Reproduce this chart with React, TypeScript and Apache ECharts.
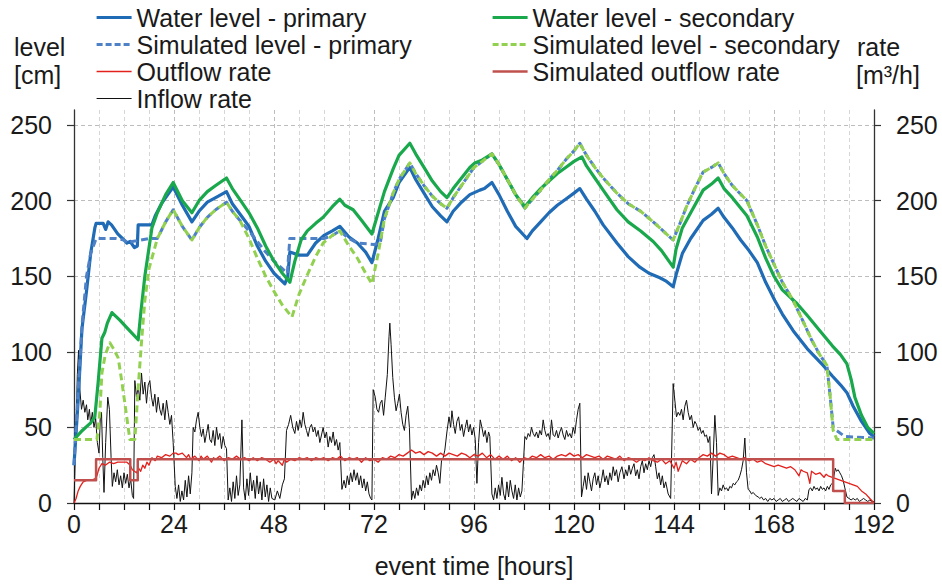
import React, { useEffect, useRef } from "react";
import * as echarts from "echarts";

const FONT = "'Liberation Sans', Arial, Helvetica, sans-serif";

const xTickLabels = [0, 24, 48, 72, 96, 120, 144, 168, 192];
const yTickLabels = [0, 50, 100, 150, 200, 250];

const primaryLevel: [number, number][] = [
  [0, 25], [1, 68], [1.9, 115], [3, 140], [4, 165], [5, 182], [5.3, 185], [7, 185], [7.6, 181], [8.2, 186], [9, 184],
  [10.5, 178], [12, 174], [12.7, 172], [13.5, 173], [14.5, 169], [15.2, 170], [15.4, 184], [18.7, 184], [19.5, 190],
  [21, 198], [22.5, 204], [23.8, 209], [26, 197], [28.3, 186], [30, 193], [32, 199], [34, 202], [36.6, 206], [38, 198],
  [40.4, 189], [42, 183], [44, 170], [46, 160], [48, 152], [50.6, 145], [51.3, 150], [51.8, 166], [54, 164], [56, 164],
  [58, 172], [60, 177], [62, 180], [63.8, 183], [66, 176], [68, 172], [70, 166], [71.5, 159], [73, 175], [74.5, 193],
  [76.6, 202], [78, 212], [80.6, 222], [82, 214], [84, 205], [86, 196], [88, 190], [89.5, 186], [91, 193], [93, 199],
  [95, 204], [97.4, 207], [98.5, 208], [100.3, 212], [102, 204], [104, 193], [106, 183], [108.7, 175], [110, 180],
  [112, 186], [114, 192], [116, 197], [118, 201], [120, 205], [121.4, 208], [123, 201], [125, 193], [127, 184],
  [130.3, 172], [133, 163], [135.8, 156], [138, 152], [140.6, 149], [142, 147], [143.8, 143], [144.5, 151], [146, 165],
  [148, 175], [151, 187], [153, 191], [154.6, 195], [156, 189], [158, 182], [160, 174], [162, 167], [164, 159],
  [166, 146], [168.2, 134], [170, 125], [172.6, 114], [176, 102], [179.8, 91], [182, 84], [184, 78], [185.5, 73],
  [187, 64], [189, 54], [191, 46], [192, 44],
];

const secondaryLevel: [number, number][] = [
  [0, 42], [2, 48], [4, 53], [5, 57], [5.8, 80], [6.7, 109], [7.4, 113], [8, 119], [9.1, 126], [11, 121], [13, 115],
  [15.4, 108], [16, 125], [17, 150], [18.7, 182], [20, 192], [22, 204], [23.8, 212], [26, 200], [28.3, 192], [30, 200],
  [32, 206], [34, 210], [36.6, 215], [38, 208], [40, 200], [42, 192], [44, 182], [46, 170], [48, 160], [50, 152],
  [51.8, 146], [53, 160], [54.5, 174], [56, 180], [58, 185], [59.8, 189], [62, 196], [63.8, 201], [65, 197], [67, 194],
  [69, 187], [71.5, 178], [73, 192], [74.5, 206], [76.6, 221], [78, 230], [80.6, 238], [82, 231], [84, 222], [86, 213],
  [88, 206], [89.5, 202], [91, 208], [93, 215], [95, 222], [96.2, 225], [98, 227], [100.3, 231], [102, 224], [104, 214],
  [106, 204], [108.2, 196], [110, 202], [112, 208], [114, 213], [116, 218], [118, 222], [120, 226], [121.9, 229],
  [123, 223], [125, 215], [127, 207], [130.3, 194], [133, 186], [136, 180], [139, 173], [141, 167], [143.8, 156],
  [144.5, 168], [146, 182], [148, 192], [151, 207], [153, 211], [154.6, 215], [156, 208], [158, 202], [161.5, 190],
  [164, 176], [166, 162], [168, 150], [170, 141], [173.5, 132], [176, 124], [179, 114], [182, 104], [184, 98],
  [185.5, 92], [186.5, 82], [187.4, 70], [189, 58], [190.5, 50], [192, 46],
];

const simPrimary: [number, number][] = [
  [0, 25], [1, 75], [2, 120], [3, 150], [4, 165], [5.3, 175], [10, 175], [12, 174], [13, 172], [14, 173], [16, 174],
  [18, 175], [20, 175], [22, 186], [23.8, 194], [26, 183], [28.3, 174], [30, 182], [32, 189], [34, 194], [36.6, 199],
  [38, 193], [39.8, 187], [42, 180], [44, 173], [46, 166], [48, 160], [50, 155], [51.2, 152], [51.8, 175], [60, 175],
  [62, 177], [63.8, 180], [66, 175], [68, 172], [72, 171], [73.5, 172], [74.5, 188], [76.6, 205], [78, 214],
  [80.6, 225], [82, 218], [84, 210], [86, 203], [88, 198], [89.5, 195], [91, 202], [93, 210], [95, 218], [96, 222],
  [98, 226], [100.3, 231], [102, 224], [104, 214], [106, 204], [108.2, 195], [110, 201], [112, 207], [114, 214],
  [116, 220], [118, 227], [120, 233], [121.4, 238], [123, 230], [125, 222], [127, 215], [130.3, 205], [133, 198],
  [136, 193], [139, 186], [141, 181], [143.8, 174], [145, 182], [147, 196], [149, 208], [151, 219], [153, 222],
  [154.6, 225], [156, 218], [158, 210], [161.5, 200], [164, 184], [166, 170], [168, 158], [170, 146], [172.6, 134],
  [175, 120], [177, 108], [179, 98], [180.7, 91], [181.5, 70], [182.2, 50], [183, 48], [185, 44], [192, 43],
];

const simSecondary: [number, number][] = [
  [0, 42], [5.5, 42], [6.2, 60], [6.7, 86], [7.5, 98], [8.6, 106], [9.5, 102], [10.6, 96], [11.5, 80], [12.5, 60],
  [13.4, 42], [14.6, 42], [15.5, 80], [16.3, 110], [17, 134], [18, 155], [20, 175], [22, 186], [23.8, 194], [26, 183],
  [28.3, 174], [30, 182], [32, 189], [34, 194], [36.6, 199], [38, 193], [39.8, 187], [42, 175], [44, 162], [46, 150],
  [48, 140], [50, 131], [52.3, 123], [54, 138], [56, 151], [58, 163], [59.8, 172], [62, 177], [63.8, 180], [66, 170],
  [68, 162], [70, 152], [71.5, 145], [73, 165], [74.5, 188], [76.6, 205], [78, 214], [80.6, 225], [82, 218], [84, 210],
  [86, 203], [88, 198], [89.5, 195], [91, 202], [93, 210], [95, 218], [96, 222], [98, 226], [100.3, 231], [102, 224],
  [104, 214], [106, 204], [108.2, 195], [110, 201], [112, 207], [114, 214], [116, 220], [118, 227], [120, 233],
  [121.4, 238], [123, 230], [125, 222], [127, 215], [130.3, 205], [133, 198], [136, 193], [139, 186], [141, 181],
  [143.8, 174], [145, 182], [147, 196], [149, 208], [151, 219], [153, 222], [154.6, 225], [156, 218], [158, 210],
  [161.5, 200], [164, 184], [166, 170], [168, 158], [170, 146], [172.6, 134], [175, 120], [177, 108], [179, 98],
  [180.7, 91], [181.5, 70], [182.2, 48], [183.1, 42], [192, 42],
];

const outflowRate: [number, number][] = [
  [0, 0], [0.5, 3], [1, 8], [1.5, 11], [2.2, 14], [3, 15], [4, 15], [5, 16], [5.5, 18], [6, 23], [6.7, 26], [7.5, 25],
  [8.5, 27], [9.5, 26], [10.5, 27], [11.5, 27], [12.7, 27], [13.5, 25], [14, 22], [15, 20], [15.5, 23], [16, 21],
  [16.5, 25], [17, 23], [17.5, 27], [18, 25], [18.7, 30], [19.5, 28], [20, 31], [21, 30], [22, 32], [23, 31],
  [23.8, 33], [24.5, 33], [25, 32], [26, 33], [27, 30], [27.5, 32], [28, 29], [29, 31], [30, 28], [30.5, 31], [31, 29],
  [32, 31], [33, 27], [33.5, 30], [34, 29], [35, 31], [36, 28], [37, 30], [38, 29], [39, 31], [40, 29], [41, 30],
  [42, 28], [43, 30], [44, 28], [45, 30], [46, 29], [47, 27], [48, 29], [48.5, 26], [49, 28], [50, 25], [50.5, 29],
  [51, 27], [52, 29], [53, 28], [54, 30], [55, 29], [56, 30], [57, 28], [58, 30], [59, 29], [60, 30], [61, 28], [62, 30],
  [63, 29], [64, 31], [65, 28], [66, 30], [67, 29], [68, 30], [69, 27], [70, 30], [71, 28], [72, 29], [73, 27], [74, 30],
  [75, 29], [76, 31], [77, 30], [78, 32], [79, 31], [80, 33], [81, 35], [82, 33], [83, 34], [84, 32], [85, 34], [86, 33],
  [87, 31], [88, 33], [89, 31], [90, 33], [91, 32], [92, 31], [93, 33], [94, 32], [95, 30], [96, 32], [97, 31], [98, 33],
  [99, 30], [100, 32], [101, 29], [102, 31], [103, 29], [104, 31], [105, 28], [106, 30], [107, 27], [108, 30], [109, 29],
  [110, 31], [111, 30], [112, 32], [113, 30], [114, 31], [115, 29], [116, 31], [117, 32], [118, 31], [119, 33],
  [120, 31], [121, 32], [122, 30], [123, 32], [124, 31], [125, 30], [126, 31], [127, 29], [128, 31], [129, 30],
  [130, 29], [131, 31], [132, 28], [133, 30], [134, 29], [135, 27], [136, 29], [137, 28], [138, 30], [139, 28],
  [140, 27], [141, 29], [142, 26], [143, 28], [144, 23], [144.5, 27], [145, 21], [146, 28], [147, 26], [148, 29],
  [149, 27], [150, 30], [151, 32], [152, 31], [153, 33], [154, 31], [155, 33], [156, 32], [157, 30], [158, 31],
  [159, 30], [160, 29], [161, 30], [162, 28], [163, 29], [164, 27], [165, 28], [166, 26], [167, 25], [168, 24],
  [169, 25], [170, 24], [171, 23], [172, 24], [173, 22], [174, 18], [174.5, 22], [175, 21], [176, 20], [176.6, 13],
  [177, 21], [178, 19], [179, 20], [180, 17], [180.5, 19], [181, 18], [182, 17], [183, 16], [184, 15], [185, 14],
  [186, 13], [187, 12], [188, 11], [189, 8], [190, 6], [191, 3], [192, 0],
];

const simOutflowRate: [number, number][] = [
  [0, 15], [5.3, 15], [5.3, 29], [13.5, 29], [13.5, 15], [15.3, 15], [15.3, 29], [182.2, 29], [182.2, 8], [185, 8],
  [185, 0], [192, 0],
];

const inflowRate: [number, number][] = [
  [0, 0], [0.4, 40], [0.8, 85], [1.1, 101], [1.4, 75], [1.8, 62], [2.2, 68], [2.6, 60], [3, 65], [3.3, 55], [3.7, 62],
  [4, 52], [4.4, 60], [4.8, 50], [5.2, 56], [5.6, 40], [6, 33], [6.3, 55], [6.6, 60], [6.9, 30], [7.2, 7], [7.6, 40],
  [8.1, 70], [8.5, 62], [8.9, 30], [9.2, 11], [9.6, 20], [10, 14], [10.4, 22], [10.8, 12], [11.2, 18], [11.6, 10],
  [12, 20], [12.4, 13], [12.8, 19], [13.2, 10], [13.6, 16], [14, 5], [14.3, 3], [14.6, 81], [15, 70], [15.4, 77],
  [15.8, 68], [16.2, 86], [16.6, 72], [17, 80], [17.4, 66], [17.8, 78], [18.2, 81], [18.6, 70], [19, 64], [19.4, 72],
  [19.8, 60], [20.2, 70], [20.6, 62], [21, 58], [21.4, 66], [21.8, 55], [22.2, 68], [22.6, 60], [23, 52], [23.4, 58],
  [23.8, 40], [24.3, 11], [24.7, 3], [25.1, 12], [25.5, 1], [25.9, 8], [26.3, 2], [26.7, 15], [27.1, 4], [27.5, 18],
  [27.9, 6], [28.3, 20], [28.6, 50], [29, 47], [29.4, 55], [29.8, 60], [30.2, 50], [30.6, 44], [31, 49], [31.4, 40],
  [31.8, 46], [32.2, 52], [32.6, 42], [33, 40], [33.4, 48], [33.8, 38], [34.2, 50], [34.6, 42], [35, 46], [35.4, 36],
  [35.8, 44], [36.2, 38], [36.6, 36], [37, 2], [37.4, 10], [37.8, 1], [38.2, 14], [38.6, 3], [39, 18], [39.4, 5],
  [39.8, 12], [40.3, 55], [40.7, 10], [41.1, 2], [41.5, 16], [41.9, 5], [42.3, 20], [42.7, 8], [43.1, 15], [43.5, 3],
  [43.9, 18], [44.3, 6], [44.7, 14], [45.1, 2], [45.5, 16], [45.9, 4], [46.3, 12], [46.7, 1], [47.1, 10], [47.5, 3],
  [48.2, 2], [48.8, 8], [49.4, 3], [50, 12], [50.5, 16], [51, 48], [51.5, 52], [52, 58], [52.5, 50], [53, 46],
  [53.4, 54], [53.8, 48], [54.2, 55], [54.6, 50], [55, 60], [55.4, 52], [55.8, 48], [56.2, 44], [56.6, 50], [57, 52],
  [57.4, 47], [57.8, 50], [58.2, 44], [58.6, 48], [59, 40], [59.4, 45], [59.8, 50], [60.2, 43], [60.6, 47], [61, 37],
  [61.4, 44], [61.8, 40], [62.2, 47], [62.6, 38], [63, 42], [63.4, 35], [63.8, 40], [64.3, 9], [64.8, 15], [65.2, 10],
  [65.6, 18], [66, 12], [66.4, 20], [66.8, 14], [67.2, 22], [67.6, 15], [68, 20], [68.4, 12], [68.8, 18], [69.2, 10],
  [69.6, 16], [70, 8], [70.4, 14], [70.8, 6], [71.2, 3], [71.5, 2], [71.8, 75], [72.3, 70], [72.7, 62], [73.1, 60],
  [73.5, 66], [73.9, 68], [74.3, 58], [74.7, 70], [75.2, 85], [75.6, 110], [75.8, 119], [76.1, 105], [76.5, 83],
  [76.9, 70], [77.3, 61], [77.7, 66], [78.1, 72], [78.5, 60], [78.9, 52], [79.3, 48], [79.7, 58], [80.1, 64],
  [80.5, 50], [81, 2], [81.4, 8], [81.8, 3], [82.2, 10], [82.6, 5], [83, 12], [83.4, 8], [83.8, 15], [84.2, 10],
  [84.6, 18], [85, 12], [85.4, 20], [85.8, 15], [86.2, 22], [86.6, 18], [87, 25], [87.4, 20], [87.8, 13], [88.2, 28],
  [88.6, 30], [89, 35], [89.5, 47], [90, 57], [90.4, 50], [90.7, 61], [91.1, 52], [91.5, 46], [91.9, 54], [92.3, 57],
  [92.7, 48], [93.1, 52], [93.5, 44], [93.9, 50], [94.3, 55], [94.7, 47], [95.1, 52], [95.5, 45], [95.9, 50],
  [96.3, 42], [96.7, 13], [97.1, 40], [97.5, 55], [97.9, 50], [98.3, 44], [98.7, 48], [99.1, 40], [99.5, 47],
  [99.8, 44], [100.3, 6], [100.7, 2], [101.1, 10], [101.5, 3], [101.9, 12], [102.3, 5], [102.7, 17], [103.1, 6],
  [103.5, 2], [103.9, 14], [104.3, 4], [104.7, 15], [105.1, 8], [105.5, 3], [105.9, 12], [106.3, 2], [106.7, 10],
  [107.1, 4], [107.5, 8], [108.2, 44], [108.6, 42], [109, 46], [109.4, 44], [109.8, 50], [110.2, 46], [110.6, 44],
  [111, 47], [111.4, 43], [111.8, 48], [112.2, 45], [112.6, 55], [113, 48], [113.4, 44], [113.8, 46], [114.2, 42],
  [114.6, 55], [115, 45], [115.4, 44], [115.8, 48], [116.2, 43], [116.6, 47], [117, 50], [117.4, 45], [117.8, 42],
  [118.2, 48], [118.6, 44], [119, 46], [119.4, 43], [119.8, 50], [120.2, 46], [120.6, 55], [121, 62], [121.4, 66],
  [121.8, 4], [122.2, 11], [122.6, 18], [123, 9], [123.4, 20], [123.8, 14], [124.2, 8], [124.6, 16], [125, 20],
  [125.4, 12], [125.8, 18], [126.2, 10], [126.6, 15], [127, 22], [127.4, 14], [127.8, 18], [128.2, 12], [128.6, 20],
  [129, 15], [129.4, 24], [129.8, 18], [130.2, 22], [130.6, 14], [131, 20], [131.5, 24], [132, 16], [132.4, 22],
  [132.8, 18], [133.2, 25], [133.6, 19], [134, 23], [134.4, 26], [134.8, 18], [135.2, 22], [135.6, 16], [136, 24],
  [136.4, 28], [136.8, 20], [137.2, 26], [137.6, 22], [138, 28], [138.4, 24], [138.8, 30], [139.2, 32], [139.6, 24],
  [140, 16], [140.4, 20], [140.8, 12], [141.2, 18], [141.6, 10], [142, 14], [142.6, 6], [143.2, 3], [143.8, 79],
  [144.2, 68], [144.6, 57], [145, 60], [145.4, 58], [145.8, 62], [146.2, 55], [146.6, 64], [147, 68], [147.4, 60],
  [147.8, 55], [148.2, 58], [148.6, 50], [149, 54], [149.4, 52], [149.8, 48], [150.2, 50], [150.6, 46], [151, 48],
  [151.4, 44], [151.8, 45], [152.2, 40], [152.6, 44], [153, 6], [153.4, 30], [153.8, 58], [154.2, 40], [154.6, 5],
  [155, 10], [155.4, 8], [155.8, 12], [156.2, 9], [156.6, 10], [157, 8], [157.4, 11], [157.8, 10], [158.2, 13],
  [158.6, 12], [159, 14], [159.4, 15], [159.8, 18], [160.2, 22], [160.6, 28], [161, 43], [161.4, 20], [161.8, 9],
  [162.2, 8], [162.6, 6], [163, 7], [163.6, 5], [164.2, 4], [164.6, 3], [165, 4], [165.5, 2], [166, 3], [166.5, 1],
  [167, 3], [167.5, 2], [168, 3], [168.5, 1], [169, 2], [169.5, 3], [170, 1], [170.5, 2], [171, 3], [171.5, 1],
  [172, 2], [172.5, 3], [173, 2], [173.5, 1], [174, 3], [174.5, 2], [175, 1], [175.5, 3], [176, 2], [176.4, 9],
  [176.8, 10], [177.2, 8], [177.6, 11], [178, 9], [178.4, 10], [178.8, 8], [179.2, 11], [179.6, 9], [180, 10],
  [180.4, 8], [180.8, 11], [181.2, 9], [181.6, 12], [182, 13], [182.4, 18], [182.7, 23], [183, 21], [183.4, 22],
  [183.8, 20], [184.2, 18], [184.6, 15], [185, 10], [185.5, 4], [186, 3], [186.5, 2], [187, 3], [187.5, 2], [188, 3],
  [188.5, 1], [189, 2], [189.5, 3], [190, 2], [190.5, 1], [191, 2], [191.5, 1], [192, 1],
];

const legendLeft = ["Water level - primary", "Simulated level - primary", "Outflow rate", "Inflow rate"];
const legendRight = ["Water level - secondary", "Simulated level - secondary", "Simulated outflow rate"];

const TEXT = "#1a1a1a";
const MINOR = "#d6d6d6";
const MAJOR = "#bdbdbd";

const STYLES: Record<string, { color: string; width: number; dashed: boolean }> = {
  "Inflow rate": { color: "#111111", width: 1, dashed: false },
  "Outflow rate": { color: "#e3211c", width: 1.3, dashed: false },
  "Simulated outflow rate": { color: "#c0504d", width: 2.5, dashed: false },
  "Water level - primary": { color: "#1f6bb5", width: 3.2, dashed: false },
  "Simulated level - primary": { color: "#4f81c7", width: 3, dashed: true },
  "Water level - secondary": { color: "#1aa84c", width: 3.2, dashed: false },
  "Simulated level - secondary": { color: "#92d050", width: 3, dashed: true },
};

function lineStyleOf(name: string) {
  const s = STYLES[name];
  return { color: s.color, width: s.width, type: s.dashed ? [7, 4] : "solid", cap: "butt", join: "round" };
}

function line(name: string, data: [number, number][], yAxisIndex: number, z: number) {
  return {
    type: "line",
    name,
    data,
    yAxisIndex,
    xAxisIndex: 0,
    symbol: "none",
    showSymbol: false,
    color: STYLES[name].color,
    z,
    lineStyle: lineStyleOf(name),
    emphasis: { disabled: true },
  };
}

function legendBlock(names: string[], left: number) {
  return {
    data: names.map((n) => ({
      name: n,
      lineStyle: { ...lineStyleOf(n), width: STYLES[n].width, type: STYLES[n].dashed ? [6, 3] : "solid" },
    })),
    orient: "vertical",
    left,
    top: 4,
    padding: 0,
    itemGap: 0,
    itemWidth: 35,
    itemHeight: 14,
    selectedMode: false,
    itemStyle: { color: "transparent", borderWidth: 0, opacity: 0 },
    textStyle: { fontSize: 25, color: TEXT, fontFamily: FONT, lineHeight: 27 },
  };
}

export default function App() {
  const ref = useRef<HTMLDivElement>(null);
  useEffect(() => {
    const chart = echarts.init(ref.current!, null, { renderer: "svg" });
    const yLabel = {
      customValues: yTickLabels,
      fontSize: 25,
      color: TEXT,
      fontFamily: FONT,
      margin: 22,
    };
    chart.setOption({
      animation: false,
      backgroundColor: "#ffffff",
      textStyle: { fontFamily: FONT },
      grid: { left: 74, right: 68, top: 110, bottom: 81, containLabel: false },
      legend: [legendBlock(legendLeft, 95), legendBlock(legendRight, 491)],
      xAxis: [
        {
          type: "value",
          min: 0,
          max: 192,
          interval: 6,
          position: "bottom",
          axisLine: { show: true, onZero: false, lineStyle: { color: "#111", width: 1.3 } },
          axisTick: { show: true, length: 7, lineStyle: { color: "#111", width: 1.2 } },
          axisLabel: { customValues: xTickLabels, fontSize: 25, color: TEXT, fontFamily: FONT, margin: 8 },
          splitLine: { show: true, showMinLine: false, showMaxLine: false, lineStyle: { color: MINOR, type: [4, 3], width: 1 } },
          name: "event time [hours]",
          nameLocation: "middle",
          nameGap: 50,
          nameTextStyle: { fontSize: 25, color: TEXT, fontFamily: FONT },
        },
        {
          type: "value",
          min: 0,
          max: 192,
          interval: 24,
          position: "top",
          axisLine: { show: false },
          axisTick: { show: false },
          axisLabel: { show: false },
          splitLine: { show: true, showMinLine: false, showMaxLine: false, lineStyle: { color: MAJOR, type: [4, 3], width: 1 } },
        },
      ],
      yAxis: [
        {
          type: "value",
          min: 0,
          max: 260,
          interval: 10,
          position: "left",
          axisLine: { show: true, onZero: false, lineStyle: { color: "#333", width: 1.3 } },
          axisTick: { show: true, customValues: yTickLabels, length: 7, lineStyle: { color: "#333", width: 1.2 } },
          axisLabel: yLabel,
          splitLine: { show: true, showMinLine: false, showMaxLine: false, lineStyle: { color: MINOR, type: [4, 3], width: 1 } },
        },
        {
          type: "value",
          min: 0,
          max: 260,
          interval: 10,
          position: "right",
          axisLine: { show: true, onZero: false, lineStyle: { color: "#333", width: 1.3 } },
          axisTick: { show: true, customValues: yTickLabels, length: 7, lineStyle: { color: "#333", width: 1.2 } },
          axisLabel: yLabel,
          splitLine: { show: false },
        },
        {
          type: "value",
          min: 0,
          max: 260,
          interval: 50,
          position: "left",
          axisLine: { show: false },
          axisTick: { show: false },
          axisLabel: { show: false },
          splitLine: { show: true, showMinLine: false, showMaxLine: false, lineStyle: { color: MAJOR, type: [4, 3], width: 1 } },
        },
      ],
      graphic: [
        { type: "text", x: 14, y: 47, style: { text: "level", font: `25px ${FONT}`, fill: TEXT, verticalAlign: "middle" } },
        { type: "text", x: 14, y: 75, style: { text: "[cm]", font: `25px ${FONT}`, fill: TEXT, verticalAlign: "middle" } },
        { type: "text", x: 857, y: 47, style: { text: "rate", font: `25px ${FONT}`, fill: TEXT, verticalAlign: "middle" } },
        { type: "text", x: 856, y: 75, style: { text: "[m³/h]", font: `25px ${FONT}`, fill: TEXT, verticalAlign: "middle" } },
      ],
      series: [
        line("Inflow rate", inflowRate, 1, 2),
        line("Outflow rate", outflowRate, 1, 3),
        line("Simulated outflow rate", simOutflowRate, 1, 4),
        line("Water level - primary", primaryLevel, 0, 5),
        line("Simulated level - primary", simPrimary, 0, 6),
        line("Water level - secondary", secondaryLevel, 0, 7),
        line("Simulated level - secondary", simSecondary, 0, 8),
      ],
    });
    return () => chart.dispose();
  }, []);
  return <div ref={ref} style={{ position: "absolute", left: 0, top: 0, width: 942, height: 584 }} />;
}
